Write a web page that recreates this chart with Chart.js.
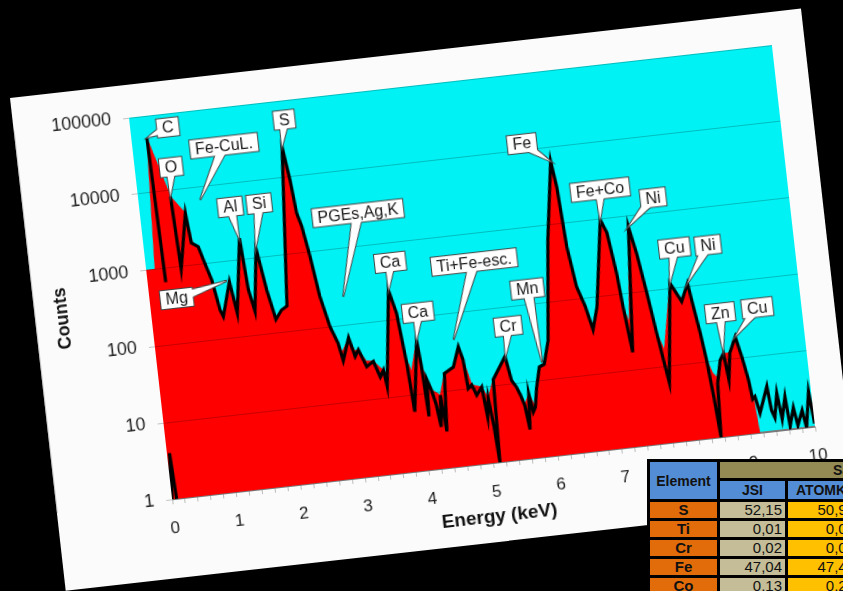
<!DOCTYPE html>
<html>
<head>
<meta charset="utf-8">
<script src="https://cdn.jsdelivr.net/npm/chart.js@4.4.1/dist/chart.umd.min.js"></script>
<style>
  html, body { margin: 0; padding: 0; background: #000; width: 843px; height: 591px; overflow: hidden; }
  #card { position: absolute; left: 10px; top: 98px; width: 796px; height: 496px; background: #fbfbfb;
          transform-origin: 0 0; transform: rotate(-6.45deg); }
  #spectrum { display: block; }
  table.res { position: absolute; left: 647px; top: 459px; width: 367px; table-layout: fixed;
              border-collapse: separate; border-spacing: 3px; background: #000;
              font-family: 'Liberation Sans', Arial, sans-serif; color: #111; }
  table.res th, table.res td { padding: 0 3px; height: 16px; line-height: 16px; white-space: nowrap; overflow: hidden; }
  table.res th.el { background: #538dd5; font-size: 14px; }
  table.res th.grp { background: #948a54; text-align: left; padding-left: 113px; font-size: 14px; height: 16px; }
  table.res th.hd { background: #538dd5; font-size: 14px; height: 18px; }
  table.res td.el { background: #e26b0a; font-weight: bold; text-align: center; font-size: 15px; }
  table.res td.jsi { background: #c4bd97; text-align: right; font-size: 15px; }
  table.res td.atk { background: #ffc000; text-align: right; font-size: 15px; }
  table.res td.more { background: #c4bd97; }
</style>
</head>
<body>
<div id="card"><canvas id="spectrum" width="796" height="496"></canvas></div>
<table class="res">
  <colgroup><col style="width:67px"><col style="width:65px"><col style="width:70px"><col style="width:150px"></colgroup>
  <tr><th class="el" rowspan="2">Element</th><th class="grp" colspan="3">Sastav (at.%)</th></tr>
  <tr><th class="hd">JSI</th><th class="hd">ATOMKI</th><th class="hd"></th></tr>
  <tr><td class="el">S</td><td class="jsi">52,15</td><td class="atk">50,96</td><td class="more"></td></tr>
  <tr><td class="el">Ti</td><td class="jsi">0,01</td><td class="atk">0,02</td><td class="more"></td></tr>
  <tr><td class="el">Cr</td><td class="jsi">0,02</td><td class="atk">0,03</td><td class="more"></td></tr>
  <tr><td class="el">Fe</td><td class="jsi">47,04</td><td class="atk">47,45</td><td class="more"></td></tr>
  <tr><td class="el">Co</td><td class="jsi">0,13</td><td class="atk">0,25</td><td class="more"></td></tr>
</table>
<script>
// measured spectrum (black line), energy in keV
const lineEnergy = [
  0, 0.04, 0.07, 0.10, 0.24, 0.28, 0.30, 0.50, 0.54, 0.70,
  0.74, 0.84, 0.90, 0.99, 1.065, 1.105, 1.257, 1.325, 1.487, 1.535,
  1.60, 1.723, 1.817, 1.907, 2.01, 2.10, 2.30, 2.365, 2.41, 2.465,
  2.54, 2.62, 2.725, 2.82, 2.87, 2.99, 3.06, 3.12, 3.22, 3.33,
  3.41, 3.47, 3.50, 3.685, 3.77, 3.84, 3.88, 4.03, 4.06, 4.09,
  4.12, 4.17, 4.22, 4.26, 4.30, 4.34, 4.40, 4.55, 4.66, 4.71,
  4.74, 4.80, 4.86, 4.95, 4.99, 5.03, 5.07, 5.10, 5.14, 5.36,
  5.42, 5.48, 5.53, 5.58, 5.62, 5.66, 5.70, 5.74, 5.79, 5.87,
  5.95, 6.05, 6.22, 6.40, 6.45, 6.50, 6.58, 6.68, 6.76, 6.86,
  7.06, 7.14, 7.22, 7.26, 7.33, 7.48, 7.56, 7.65, 7.73, 7.79,
  7.84, 8.02, 8.17, 8.29, 8.34, 8.40, 8.45, 8.50, 8.54, 8.58,
  8.66, 8.72, 8.76, 8.82, 8.93, 9.00, 9.06, 9.09, 9.13, 9.18,
  9.33, 9.36, 9.40, 9.47, 9.51, 9.59, 9.62, 9.70, 9.74, 9.83,
  9.87, 9.96, 10.0
];
const lineCounts = [
  1, 4, 1, null, 51000, 660, null, 8300, 930, 4800,
  1950, 1700, 1100, 600, 240, 195, 540, 205, 1900, 400,
  205, 1330, 370, 150, 195, 215, 25000, 9100, 3300, 2200,
  870, 260, 100, 60, 35, 68, 38, 46, 27, 31,
  19, 23, 14, 245, 120, 26, 6, 50, 23, 5,
  15, 11, 7, 3.5, 9, 3, 17, 20, 36, 24,
  10, 11, 8, 10, 4, 7, 3, 1, 12, 23,
  11, 9, 7, 5, 2.4, 7, 4, 4.6, 8, 15,
  16, 32, 630, 6600, 3000, 490, 145, 78, 38, 74,
  980, 650, 186, 68, 17, 720, 320, 93, 28, 12,
  6, 117, 65, 110, 54, 24, 10.5, 3.2, 1, 5,
  10, 12, 5.4, 12, 19, 10, 5, 2.8, 3, 1.8,
  3.9, 1.9, 1.5, 3.1, 1.4, 2.7, 1.1, 1.9, 1.1, 1.7,
  1, 2.9, 1.1
];
// red filled envelope
const areaEnergy = [
  0, 0.14, 0.24, 0.50, 0.70, 0.76, 0.84, 0.90, 0.99, 1.065,
  1.105, 1.257, 1.325, 1.487, 1.535, 1.60, 1.723, 1.817, 1.907, 2.01,
  2.10, 2.30, 2.365, 2.41, 2.465, 2.54, 2.62, 2.725, 2.82, 2.87,
  2.99, 3.06, 3.12, 3.22, 3.33, 3.41, 3.47, 3.52, 3.685, 3.77,
  3.84, 3.90, 4.03, 4.06, 4.12, 4.17, 4.30, 4.40, 4.55, 4.66,
  4.71, 4.80, 4.95, 5.03, 5.14, 5.36, 5.42, 5.48, 5.53, 5.58,
  5.66, 5.74, 5.79, 5.87, 5.95, 6.05, 6.22, 6.40, 6.45, 6.50,
  6.58, 6.68, 6.76, 6.86, 7.06, 7.14, 7.22, 7.26, 7.33, 7.48,
  7.56, 7.65, 7.73, 7.82, 8.02, 8.17, 8.29, 8.34, 8.40, 8.45,
  8.52, 8.58, 8.66, 8.72, 8.82, 8.93, 9.00, 9.06, 9.10, 9.14,
  10.0
];
const areaCounts = [
  1000, 1000, 51000, 8300, 4800, 1950, 1700, 1100, 600, 240,
  195, 540, 205, 1900, 400, 205, 1330, 370, 150, 195,
  215, 25000, 9100, 3300, 2200, 870, 260, 100, 60, 45,
  68, 45, 46, 32, 31, 26, 23, 20, 245, 120,
  30, 20, 50, 23, 15, 11, 9, 17, 20, 36,
  24, 11, 10, 7, 12, 23, 11, 9, 7, 5,
  7, 4.6, 8, 15, 16, 32, 630, 6600, 3000, 490,
  145, 78, 40, 74, 980, 650, 186, 68, 40, 720,
  320, 93, 28, 16, 117, 65, 110, 54, 24, 10.5,
  7, 6, 10, 12, 12, 19, 10, 5, 3, 1,
  1
];
const yTicks = [1, 10, 100, 1000, 10000, 100000];
const xMinorStep = 0.2;

// peak labels: box centre and arrow tip, in (keV, counts)
const callouts = [
  { text: 'C', box: [0.58, 66000], tip: [0.25, 52000] },
  { text: 'O', box: [0.56, 20000], tip: [0.50, 8300] },
  { text: 'Fe-CuL.', box: [1.41, 31600], tip: [0.95, 6800] },
  { text: 'Al', box: [1.40, 5000], tip: [1.48, 1900] },
  { text: 'Si', box: [1.85, 5000], tip: [1.72, 1330] },
  { text: 'S', box: [2.38, 56000], tip: [2.30, 25000] },
  { text: 'PGEs,Ag,K', box: [3.35, 2700], tip: [2.98, 235] },
  { text: 'Ca', box: [3.76, 560], tip: [3.69, 245] },
  { text: 'Ca', box: [4.10, 115], tip: [4.03, 50] },
  { text: 'Ti+Fe-esc.', box: [5.05, 425], tip: [4.60, 45] },
  { text: 'Mn', box: [5.82, 160], tip: [5.92, 17] },
  { text: 'Cr', box: [5.46, 56], tip: [5.37, 23] },
  { text: 'Fe', box: [5.99, 12300], tip: [6.40, 6600] },
  { text: 'Fe+Co', box: [7.11, 2400], tip: [7.06, 980] },
  { text: 'Ni', box: [7.91, 1580], tip: [7.48, 720] },
  { text: 'Cu', box: [8.15, 330], tip: [8.02, 117] },
  { text: 'Ni', box: [8.67, 320], tip: [8.29, 110] },
  { text: 'Zn', box: [8.74, 41], tip: [8.72, 13] },
  { text: 'Cu', box: [9.32, 42], tip: [8.93, 19] },
  { text: 'Mg', box: [0.42, 390], tip: [1.22, 560] }
];

const FONT = "'Liberation Sans', Arial, sans-serif";

const plotBackground = {
  id: 'plotBackground',
  beforeDraw(chart) {
    const { ctx, chartArea: a } = chart;
    ctx.save();
    ctx.fillStyle = '#00f2f4';
    ctx.fillRect(a.left, a.top, a.right - a.left, a.bottom - a.top);
    ctx.restore();
  }
};

const calloutLabels = {
  id: 'calloutLabels',
  afterDraw(chart) {
    const { ctx, scales: { x, y } } = chart;
    ctx.save();
    ctx.font = '16px ' + FONT;
    ctx.textAlign = 'center';
    ctx.textBaseline = 'middle';
    callouts.forEach(c => {
      const bx = x.getPixelForValue(c.box[0]), by = y.getPixelForValue(c.box[1]);
      const tx = x.getPixelForValue(c.tip[0]), ty = y.getPixelForValue(c.tip[1]);
      const w = ctx.measureText(c.text).width + 10, h = 18;
      const len = Math.hypot(tx - bx, ty - by) || 1;
      const nx = -(ty - by) / len * 5, ny = (tx - bx) / len * 5;
      const tail = () => {
        ctx.beginPath();
        ctx.moveTo(bx + nx, by + ny);
        ctx.lineTo(tx, ty);
        ctx.lineTo(bx - nx, by - ny);
        ctx.closePath();
      };
      ctx.lineWidth = 2;
      ctx.strokeStyle = '#444';
      ctx.fillStyle = '#fff';
      // outlines first, then white fills hide the inner halves
      tail(); ctx.stroke();
      ctx.strokeRect(bx - w / 2, by - h / 2, w, h);
      tail(); ctx.fill();
      ctx.fillRect(bx - w / 2, by - h / 2, w, h);
      ctx.fillStyle = '#1a1a1a';
      ctx.fillText(c.text, bx, by + 1);
    });
    ctx.restore();
  }
};

const ctx = document.getElementById('spectrum').getContext('2d');
const spectrumChart = new Chart(ctx, {
  type: 'line',
  data: {
    datasets: [
      {
        label: 'Spectrum',
        data: lineEnergy.map((e, i) => ({ x: e, y: lineCounts[i] })),
        borderColor: '#000',
        borderWidth: 3.2,
        pointRadius: 0,
        fill: false,
        tension: 0,
        order: 0
      },
      {
        label: 'Envelope',
        data: areaEnergy.map((e, i) => ({ x: e, y: areaCounts[i] })),
        borderColor: '#ff0000',
        borderWidth: 1,
        backgroundColor: '#ff0000',
        pointRadius: 0,
        fill: 'start',
        tension: 0,
        order: 1
      }
    ]
  },
  options: {
    responsive: false,
    animation: false,
    events: [],
    layout: { padding: { left: 0, top: 33, right: 33, bottom: 0 } },
    plugins: { legend: { display: false }, tooltip: { enabled: false } },
    scales: {
      x: {
        type: 'linear',
        min: 0,
        max: 10,
        afterFit: s => { s.height = 79; },
        afterBuildTicks: s => {
          const t = [];
          for (let k = 0; k <= 50; k++) t.push({ value: k * xMinorStep });
          s.ticks = t;
        },
        ticks: {
          autoSkip: false,
          maxRotation: 0,
          padding: 14,
          color: '#222',
          font: { family: FONT, size: 17 },
          callback: v => Math.abs(v - Math.round(v)) < 1e-6 ? String(Math.round(v)) : ''
        },
        grid: { drawOnChartArea: false, tickLength: 5, color: '#bbb' },
        border: { color: '#999', width: 1 },
        title: {
          display: true,
          text: 'Energy (keV)',
          color: '#111',
          font: { family: FONT, size: 19, weight: 'bold' },
          padding: { top: 0, bottom: 14 }
        }
      },
      y: {
        type: 'logarithmic',
        min: 1,
        max: 100000,
        afterFit: s => { s.width = 116; },
        afterBuildTicks: s => { s.ticks = yTicks.map(v => ({ value: v })); },
        ticks: {
          padding: 12,
          color: '#222',
          font: { family: FONT, size: 18 },
          callback: v => String(v)
        },
        grid: { color: 'rgba(0,0,0,0.22)', lineWidth: 1, tickLength: 6, z: 1 },
        border: { color: '#999', width: 1 },
        title: {
          display: true,
          text: 'Counts',
          color: '#111',
          font: { family: FONT, size: 18, weight: 'bold' },
          padding: { top: 17, bottom: 0 }
        }
      }
    }
  },
  plugins: [plotBackground, calloutLabels]
});
</script>
</body>
</html>
